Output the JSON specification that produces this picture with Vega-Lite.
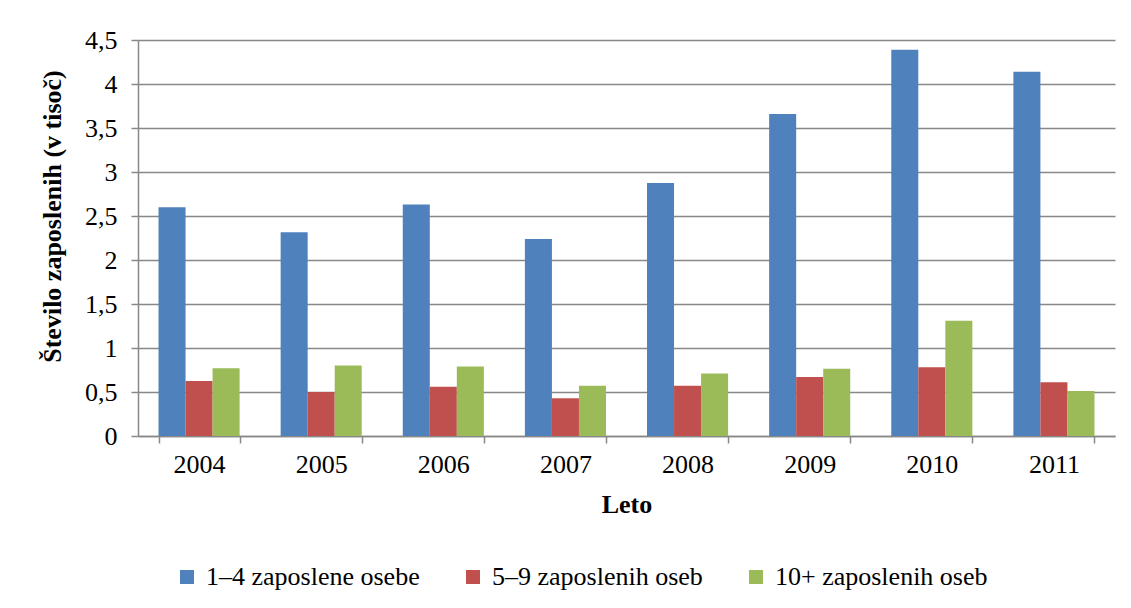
{
  "$schema": "https://vega.github.io/schema/vega-lite/v6.json",
  "width": 977,
  "height": 396,
  "autosize": {"type": "none"},
  "padding": {"left": 138, "top": 40, "right": 16, "bottom": 172},
  "background": "white",
  "data": {
    "values": [
      {"leto": "2004", "serija": "1–4 zaposlene osebe", "vrednost": 2.60},
      {"leto": "2004", "serija": "5–9 zaposlenih oseb", "vrednost": 0.625},
      {"leto": "2004", "serija": "10+ zaposlenih oseb", "vrednost": 0.77},
      {"leto": "2005", "serija": "1–4 zaposlene osebe", "vrednost": 2.315},
      {"leto": "2005", "serija": "5–9 zaposlenih oseb", "vrednost": 0.50},
      {"leto": "2005", "serija": "10+ zaposlenih oseb", "vrednost": 0.80},
      {"leto": "2006", "serija": "1–4 zaposlene osebe", "vrednost": 2.63},
      {"leto": "2006", "serija": "5–9 zaposlenih oseb", "vrednost": 0.56},
      {"leto": "2006", "serija": "10+ zaposlenih oseb", "vrednost": 0.79},
      {"leto": "2007", "serija": "1–4 zaposlene osebe", "vrednost": 2.24},
      {"leto": "2007", "serija": "5–9 zaposlenih oseb", "vrednost": 0.43},
      {"leto": "2007", "serija": "10+ zaposlenih oseb", "vrednost": 0.57},
      {"leto": "2008", "serija": "1–4 zaposlene osebe", "vrednost": 2.875},
      {"leto": "2008", "serija": "5–9 zaposlenih oseb", "vrednost": 0.57},
      {"leto": "2008", "serija": "10+ zaposlenih oseb", "vrednost": 0.71},
      {"leto": "2009", "serija": "1–4 zaposlene osebe", "vrednost": 3.66},
      {"leto": "2009", "serija": "5–9 zaposlenih oseb", "vrednost": 0.67},
      {"leto": "2009", "serija": "10+ zaposlenih oseb", "vrednost": 0.765},
      {"leto": "2010", "serija": "1–4 zaposlene osebe", "vrednost": 4.39},
      {"leto": "2010", "serija": "5–9 zaposlenih oseb", "vrednost": 0.78},
      {"leto": "2010", "serija": "10+ zaposlenih oseb", "vrednost": 1.31},
      {"leto": "2011", "serija": "1–4 zaposlene osebe", "vrednost": 4.14},
      {"leto": "2011", "serija": "5–9 zaposlenih oseb", "vrednost": 0.61},
      {"leto": "2011", "serija": "10+ zaposlenih oseb", "vrednost": 0.51}
    ]
  },
  "mark": {"type": "bar"},
  "encoding": {
    "x": {
      "field": "leto",
      "type": "nominal",
      "title": "Leto",
      "scale": {"paddingInner": 0.336, "paddingOuter": 0.168},
      "axis": {
        "labelAngle": 0,
        "tickBand": "extent",
        "tickSize": 7,
        "tickColor": "#888888",
        "tickWidth": 1.5,
        "domainColor": "#888888",
        "domainWidth": 1.5,
        "labelFont": "Liberation Serif",
        "labelFontSize": 26,
        "labelColor": "black",
        "labelPadding": 8,
        "titleFont": "Liberation Serif",
        "titleFontSize": 26,
        "titleFontWeight": "bold",
        "titleColor": "black",
        "titlePadding": 14
      }
    },
    "xOffset": {
      "field": "serija",
      "type": "nominal",
      "sort": ["1–4 zaposlene osebe", "5–9 zaposlenih oseb", "10+ zaposlenih oseb"],
      "scale": {"paddingInner": 0, "paddingOuter": 0}
    },
    "y": {
      "field": "vrednost",
      "type": "quantitative",
      "title": "Število zaposlenih (v tisoč)",
      "scale": {"domain": [0, 4.5], "nice": false},
      "axis": {
        "values": [0, 0.5, 1, 1.5, 2, 2.5, 3, 3.5, 4, 4.5],
        "labelExpr": "replace(format(datum.value, '.1~f'), '.', ',')",
        "grid": true,
        "gridColor": "#888888",
        "gridWidth": 1.5,
        "tickSize": 7,
        "tickColor": "#888888",
        "tickWidth": 1.5,
        "domainColor": "#888888",
        "domainWidth": 1.5,
        "labelFont": "Liberation Serif",
        "labelFontSize": 26,
        "labelColor": "black",
        "labelPadding": 14,
        "titleFont": "Liberation Serif",
        "titleFontSize": 26,
        "titleFontWeight": "bold",
        "titleColor": "black",
        "titleAngle": 270,
        "titleBaseline": "middle",
        "titleX": -86,
        "titleY": 176
      }
    },
    "color": {
      "field": "serija",
      "type": "nominal",
      "scale": {
        "domain": ["1–4 zaposlene osebe", "5–9 zaposlenih oseb", "10+ zaposlenih oseb"],
        "range": ["#4F81BD", "#C0504D", "#9BBB59"]
      },
      "legend": {
        "title": null,
        "orient": "none",
        "direction": "horizontal",
        "legendX": 36,
        "legendY": 524,
        "symbolType": "square",
        "symbolSize": 196,
        "symbolStrokeWidth": 0,
        "labelFont": "Liberation Serif",
        "labelFontSize": 26,
        "labelColor": "black",
        "labelOffset": 6,
        "columnPadding": 40,
        "labelLimit": 400
      }
    }
  },
  "config": {
    "font": "Liberation Serif",
    "view": {"stroke": null},
    "axis": {"gridOpacity": 1, "labelFont": "Liberation Serif", "titleFont": "Liberation Serif"},
    "legend": {"labelFont": "Liberation Serif", "titleFont": "Liberation Serif"}
  }
}
